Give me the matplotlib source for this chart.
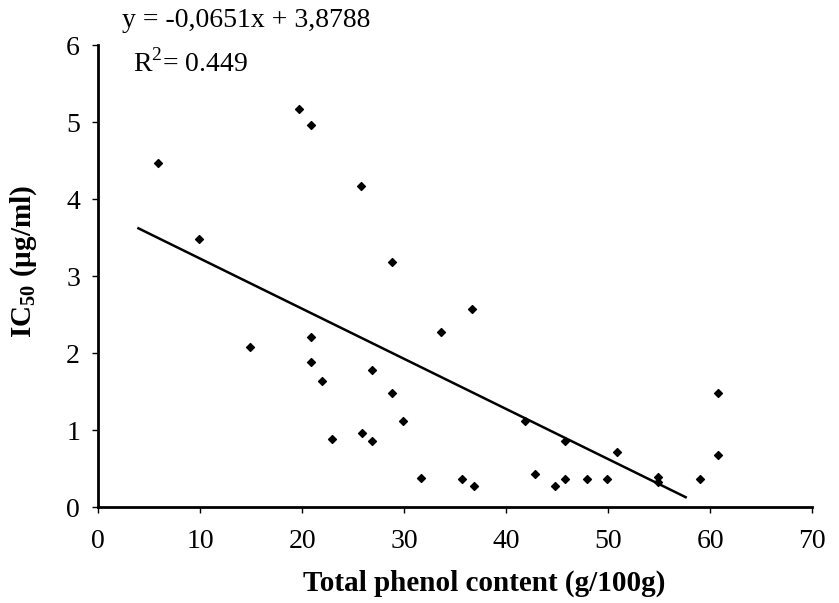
import matplotlib
matplotlib.use("Agg")
import matplotlib.pyplot as plt
import numpy as np

plt.rcParams['font.family'] = ['Liberation Serif', 'DejaVu Serif']
plt.rcParams['mathtext.fontset'] = 'custom'
plt.rcParams['mathtext.rm'] = 'Liberation Serif'
plt.rcParams['mathtext.bf'] = 'Liberation Serif:bold'

phenol = [5.9, 9.9, 14.9, 19.7, 20.85, 20.85, 20.85, 21.9, 22.9, 25.75, 25.85,
          26.8, 26.8, 28.8, 28.8, 29.9, 31.7, 33.6, 35.7, 36.7, 36.8, 41.8,
          42.8, 44.8, 45.8, 45.8, 47.9, 49.9, 50.9, 54.9, 54.9, 59.0, 60.8, 60.8]
ic50 = [4.47, 3.48, 2.08, 5.17, 4.96, 2.21, 1.88, 1.64, 0.88, 4.17, 0.96,
        1.78, 0.86, 3.18, 1.48, 1.12, 0.38, 2.28, 0.37, 2.58, 0.28, 1.12,
        0.43, 0.28, 0.86, 0.37, 0.37, 0.37, 0.71, 0.39, 0.33, 0.36, 1.48, 0.68]

slope = -0.0651
intercept = 3.8788
fit_x = [3.95, 57.6]

x_ticks = [0, 10, 20, 30, 40, 50, 60, 70]
y_ticks = [0, 1, 2, 3, 4, 5, 6]

fig = plt.figure(figsize=(8.39, 6.03), dpi=100)
ax = fig.add_axes([0.117, 0.159, 0.851, 0.766])

ax.scatter(phenol, ic50, marker='D', s=16, color='black', zorder=3)
fx = np.array(fit_x)
ax.plot(fx, intercept + slope * fx, color='black', linewidth=1.8)

ax.set_xlim(0, 70)
ax.set_ylim(0, 6)
ax.set_xticks(x_ticks)
ax.set_yticks(y_ticks)
ax.tick_params(direction='out', length=4, width=1, labelsize=20)
ax.tick_params(axis='x', pad=12)
ax.tick_params(axis='y', pad=9)
for s in ['top', 'right']:
    ax.spines[s].set_visible(False)
for s in ['left', 'bottom']:
    ax.spines[s].set_linewidth(2)

ax.set_xlabel('Total phenol content (g/100g)', fontsize=21, fontweight='bold')
ax.xaxis.set_label_coords(0.54, -0.135)
ax.set_ylabel(r'IC$_{\mathbf{50}}$ (µg/ml)', fontsize=21, fontweight='bold')
ax.yaxis.set_label_coords(-0.083, 0.532)

fig.text(0.145, 0.966, 'y = -0,0651x + 3,8788', fontsize=20, va='center', ha='left')
fig.text(0.158, 0.895, r'R$^{2}$= 0.449', fontsize=20, va='center', ha='left')

fig.savefig('out.png', dpi=100)
